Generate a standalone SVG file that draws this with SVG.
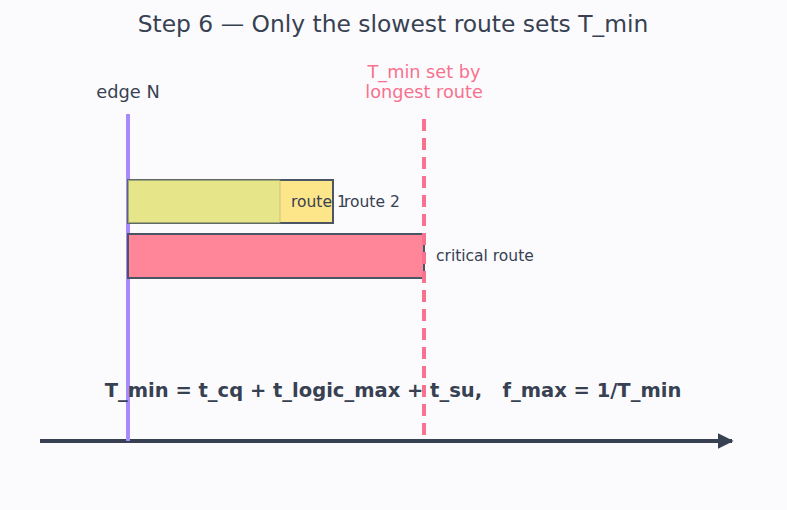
<svg xmlns="http://www.w3.org/2000/svg" width="787" height="510" viewBox="0 0 787 510">
<defs>
<style>
text{font-family:"DejaVu Sans","Noto Sans",sans-serif;fill:#374151}
.lbl{font-size:15.5px}
.bar{stroke:#4b5563;stroke-width:2}
</style>
<marker id="ah" viewBox="0 0 10 10" refX="9" refY="5" markerWidth="4" markerHeight="4" orient="auto"><path d="M0,0L10,5L0,10z" fill="#374151"/></marker>
</defs>
<rect width="787" height="510" fill="#fbfbfd"/>
<text x="393" y="32" font-size="23.4" text-anchor="middle">Step 6 — Only the slowest route sets T_min</text>
<g id="connectors">
<line x1="40" y1="441" x2="732" y2="441" stroke="#374151" stroke-width="4" marker-end="url(#ah)"/>
</g>
<g id="edge">
<line x1="128" y1="114" x2="128" y2="441" stroke="#a78bfa" stroke-width="4"/>
<text x="128" y="98" font-size="17.8" text-anchor="middle">edge N</text>
</g>
<g id="route2">
<rect class="bar" x="128" y="180" width="205" height="43" fill="#fde68a"/>
<text class="lbl" x="344" y="207">route 2</text>
</g>
<g id="route1">
<rect x="128" y="180" width="152" height="43" fill="#d9e48a" fill-opacity="0.6" stroke="#9ca36a" stroke-opacity="0.5" stroke-width="1"/>
<text class="lbl" x="291" y="207">route 1</text>
</g>
<g id="critical">
<rect class="bar" x="128" y="234" width="296" height="44" fill="#ff8599"/>
<text class="lbl" x="436" y="261">critical route</text>
</g>
<g id="tmin">
<line x1="424" y1="119" x2="424" y2="441" stroke="#f8718e" stroke-width="4" stroke-dasharray="12,7"/>
<text x="424" y="78" font-size="17.7" text-anchor="middle" style="fill:#f8718e">T_min set by</text>
<text x="424" y="98" font-size="17.7" text-anchor="middle" style="fill:#f8718e">longest route</text>
</g>
<g id="formula">
<text x="393" y="397" font-size="19.5" font-weight="bold" text-anchor="middle" xml:space="preserve">T_min = t_cq + t_logic_max + t_su,   f_max = 1/T_min</text>
</g>
</svg>
